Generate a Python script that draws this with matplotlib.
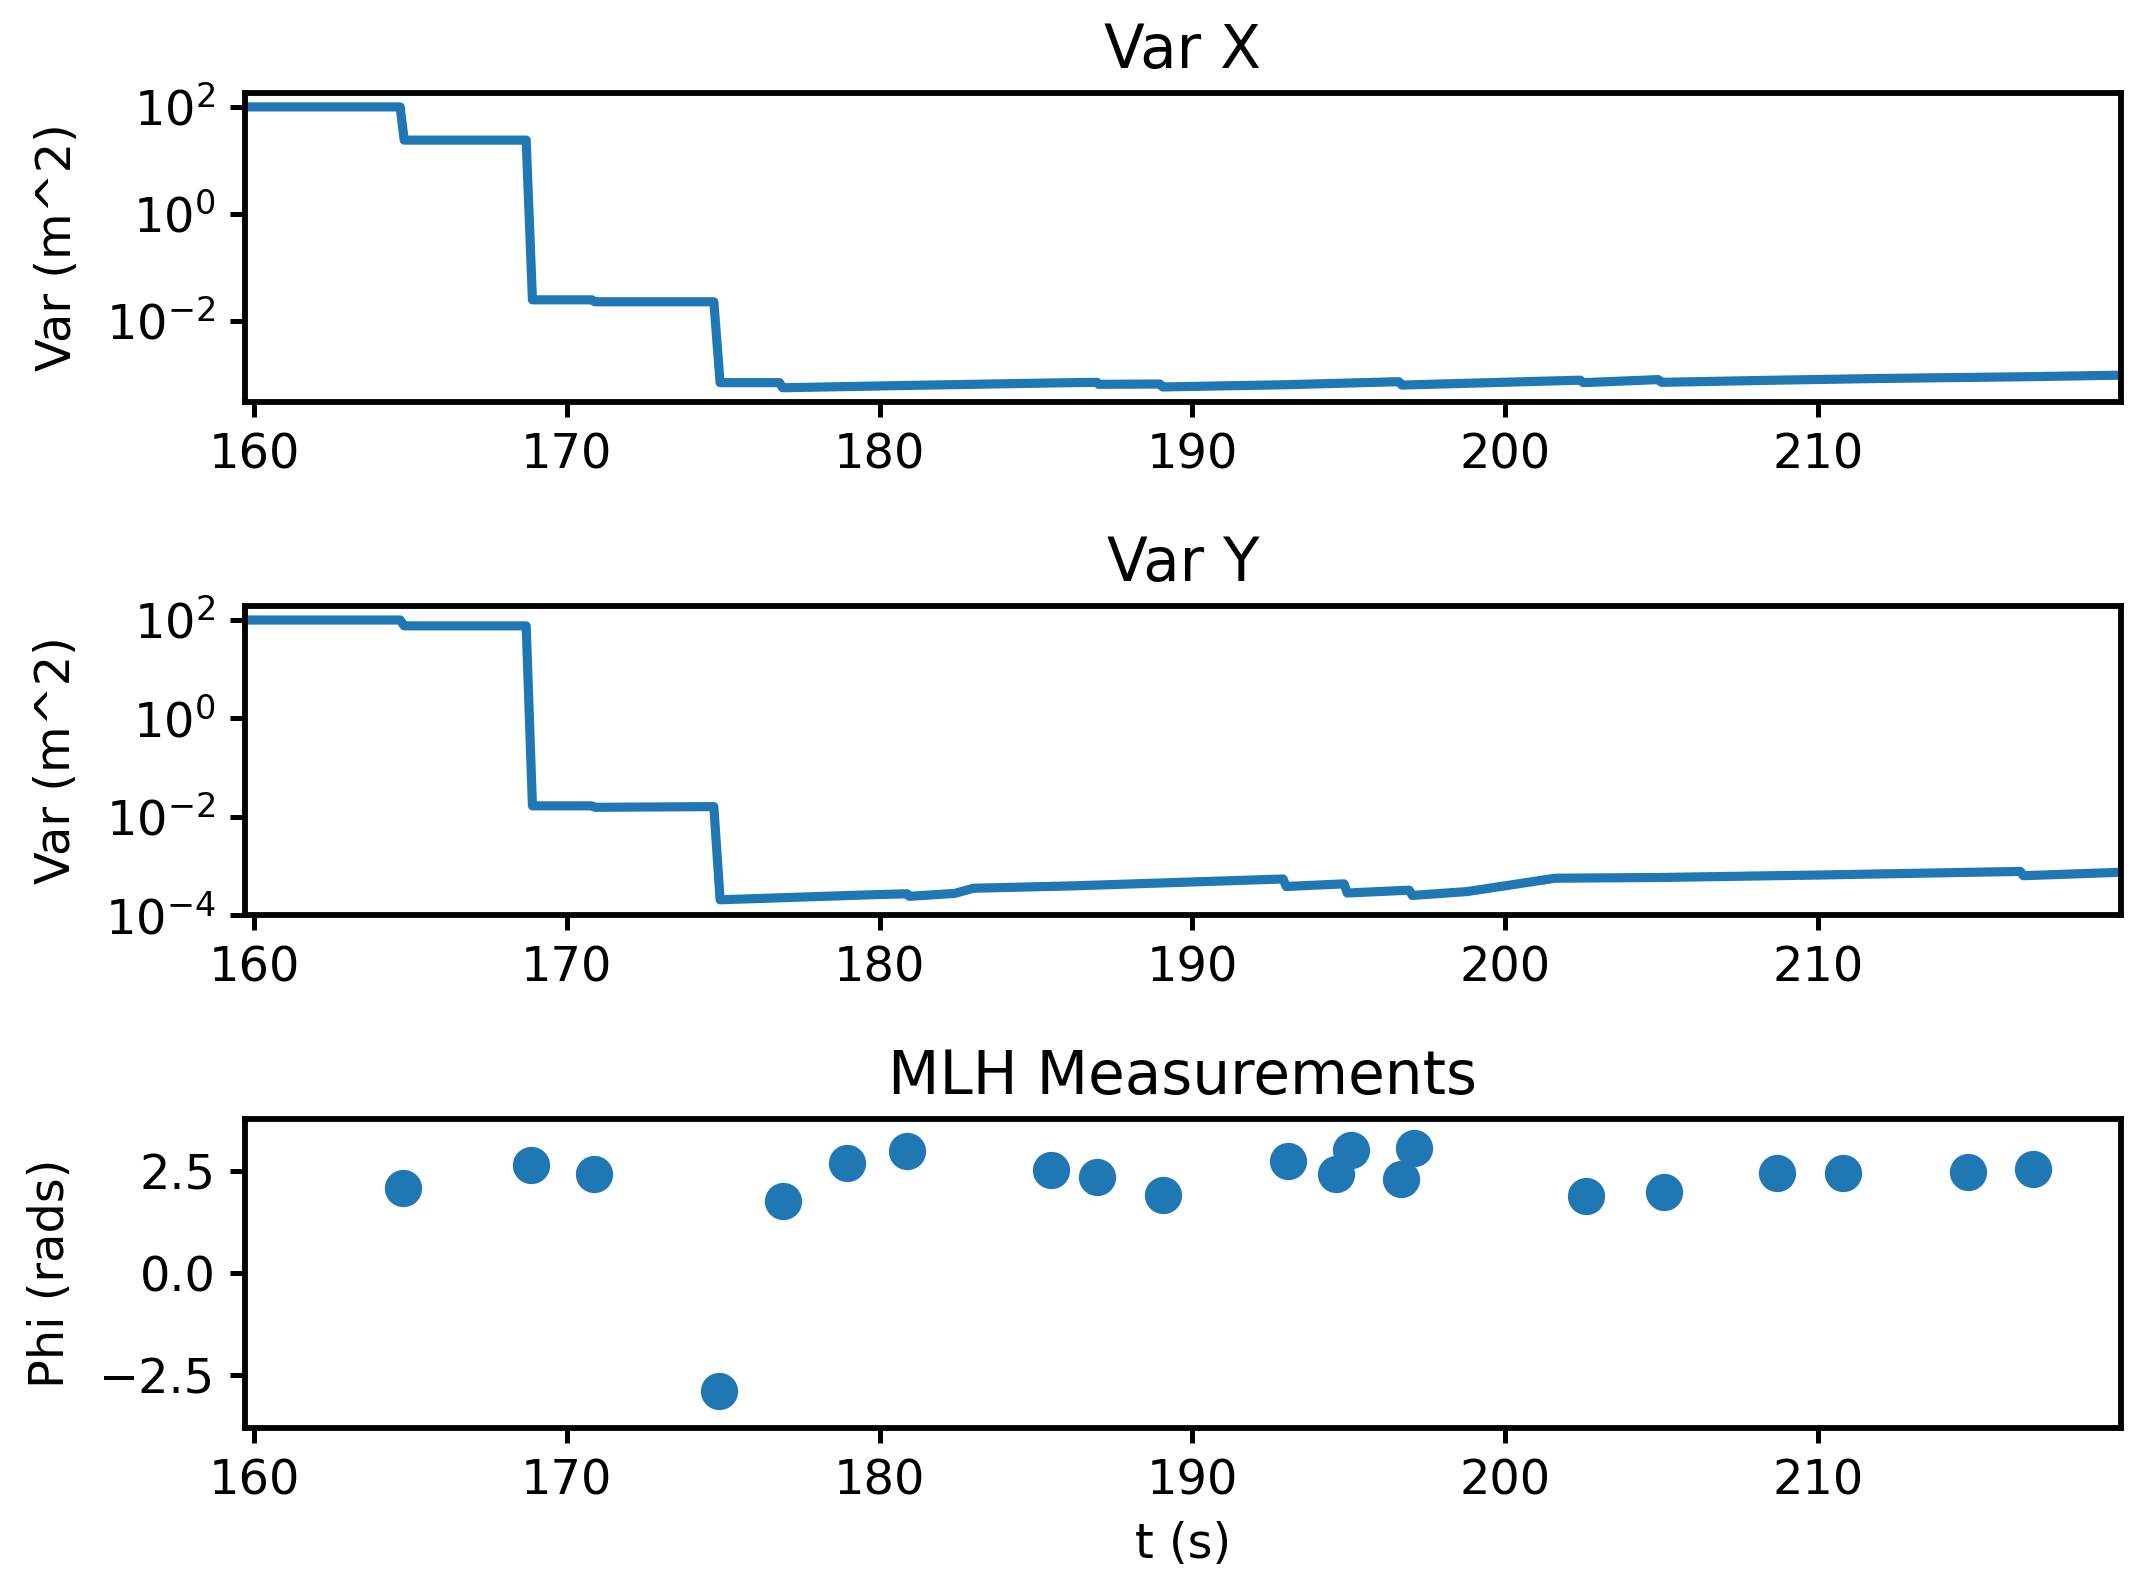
import matplotlib
matplotlib.use("Agg")
import matplotlib.pyplot as plt
from matplotlib.ticker import FixedLocator, NullLocator, LogFormatterSciNotation

plt.rcParams['font.family'] = ['DejaVu Sans']
plt.rcParams['font.size'] = 11.5
plt.rcParams['axes.linewidth'] = 1.4
plt.rcParams['xtick.major.width'] = 1.2
plt.rcParams['ytick.major.width'] = 1.2
plt.rcParams['xtick.major.size'] = 3.6
plt.rcParams['ytick.major.size'] = 3.6
plt.rcParams['axes.labelpad'] = 6.0

# ---- data ----
varx_t = [159.71, 164.67, 164.8, 168.7, 168.9, 170.8, 170.9, 174.7, 174.9, 176.8, 176.9,
          178.96, 180.88, 185.47, 186.95, 187.0, 188.96, 189.05, 193.0, 196.6, 196.7,
          202.4, 202.5, 204.9, 205.0, 208.7, 212.0, 216.9, 219.69]
varx_v = [100, 100, 24, 24, 0.025, 0.025, 0.023, 0.023, 7.1e-4, 7.1e-4, 5.7e-4,
          6.0e-4, 6.3e-4, 7.0e-4, 7.2e-4, 6.6e-4, 6.7e-4, 5.9e-4, 6.5e-4, 7.4e-4, 6.4e-4,
          7.9e-4, 7.1e-4, 8.1e-4, 7.2e-4, 7.9e-4, 8.5e-4, 9.2e-4, 9.8e-4]

vary_t = [159.71, 164.67, 164.8, 168.7, 168.9, 170.8, 170.9, 174.7, 174.9, 179.9,
          180.88, 180.95, 182.4, 183.0, 186.1, 192.9, 193.0, 194.85, 194.95, 196.93,
          197.03, 198.79, 201.6, 205.0, 210.0, 216.47, 216.57, 219.69]
vary_v = [100, 100, 76, 76, 0.0166, 0.0166, 0.0155, 0.016, 2.04e-4, 2.6e-4,
          2.7e-4, 2.4e-4, 2.75e-4, 3.5e-4, 3.9e-4, 5.4e-4, 3.8e-4, 4.3e-4, 2.8e-4, 3.2e-4,
          2.5e-4, 3.0e-4, 5.6e-4, 5.8e-4, 6.5e-4, 7.7e-4, 6.3e-4, 7.4e-4]

meas_t = [164.76, 168.87, 170.88, 174.88, 176.9, 178.96, 180.88, 185.47, 186.95, 189.07,
          193.06, 194.59, 195.07, 196.66, 197.08, 202.58, 205.08, 208.70, 210.80, 214.79,
          216.89]
meas_phi = [2.08, 2.64, 2.43, -2.90, 1.76, 2.69, 2.99, 2.52, 2.36, 1.90,
            2.74, 2.43, 3.01, 2.30, 3.06, 1.89, 1.99, 2.45, 2.45, 2.48,
            2.54]

xticks = [160, 170, 180, 190, 200, 210]
color = '#1f77b4'

fig = plt.figure(figsize=(2142 / 300, 1589 / 300), dpi=300)
W, H = 2142.0, 1589.0
left, right = 245 / W, 2121 / W
axh = 309 / H
bottoms = [1 - 402 / H, 1 - 915 / H, 1 - 1428 / H]
axes = [fig.add_axes([left, b, right - left, axh]) for b in bottoms]

ax1, ax2, ax3 = axes
title_fs = 14.3

ax1.plot(varx_t, varx_v, color=color, lw=2.2)
ax1.set_yscale('log')
ax1.set_ylim(10 ** -3.51, 10 ** 2.26)
ax1.yaxis.set_major_locator(FixedLocator([1e2, 1e0, 1e-2]))
ax1.yaxis.set_major_formatter(LogFormatterSciNotation())
ax1.yaxis.set_minor_locator(NullLocator())
ax1.set_title('Var X', fontsize=title_fs)
ax1.set_ylabel('Var (m^2)')

ax2.plot(vary_t, vary_v, color=color, lw=2.2)
ax2.set_yscale('log')
ax2.set_ylim(1e-4, 10 ** 2.285)
ax2.yaxis.set_major_locator(FixedLocator([1e2, 1e0, 1e-2, 1e-4]))
ax2.yaxis.set_major_formatter(LogFormatterSciNotation())
ax2.yaxis.set_minor_locator(NullLocator())
ax2.set_title('Var Y', fontsize=title_fs)
ax2.set_ylabel('Var (m^2)')

ax3.scatter(meas_t, meas_phi, s=80, color=color, linewidths=0)
ax3.set_ylim(-3.80, 3.77)
ax3.set_yticks([-2.5, 0.0, 2.5])
ax3.set_yticklabels(['\u22122.5', '0.0', '2.5'])
ax3.set_title('MLH Measurements', fontsize=title_fs)
ax3.set_ylabel('Phi (rads)')
ax3.set_xlabel('t (s)', labelpad=4.0)

for ax in axes:
    ax.set_xlim(159.71, 219.69)
    ax.set_xticks(xticks)
    ax.xaxis.set_minor_locator(NullLocator())

fig.savefig('out.png', dpi=300)
